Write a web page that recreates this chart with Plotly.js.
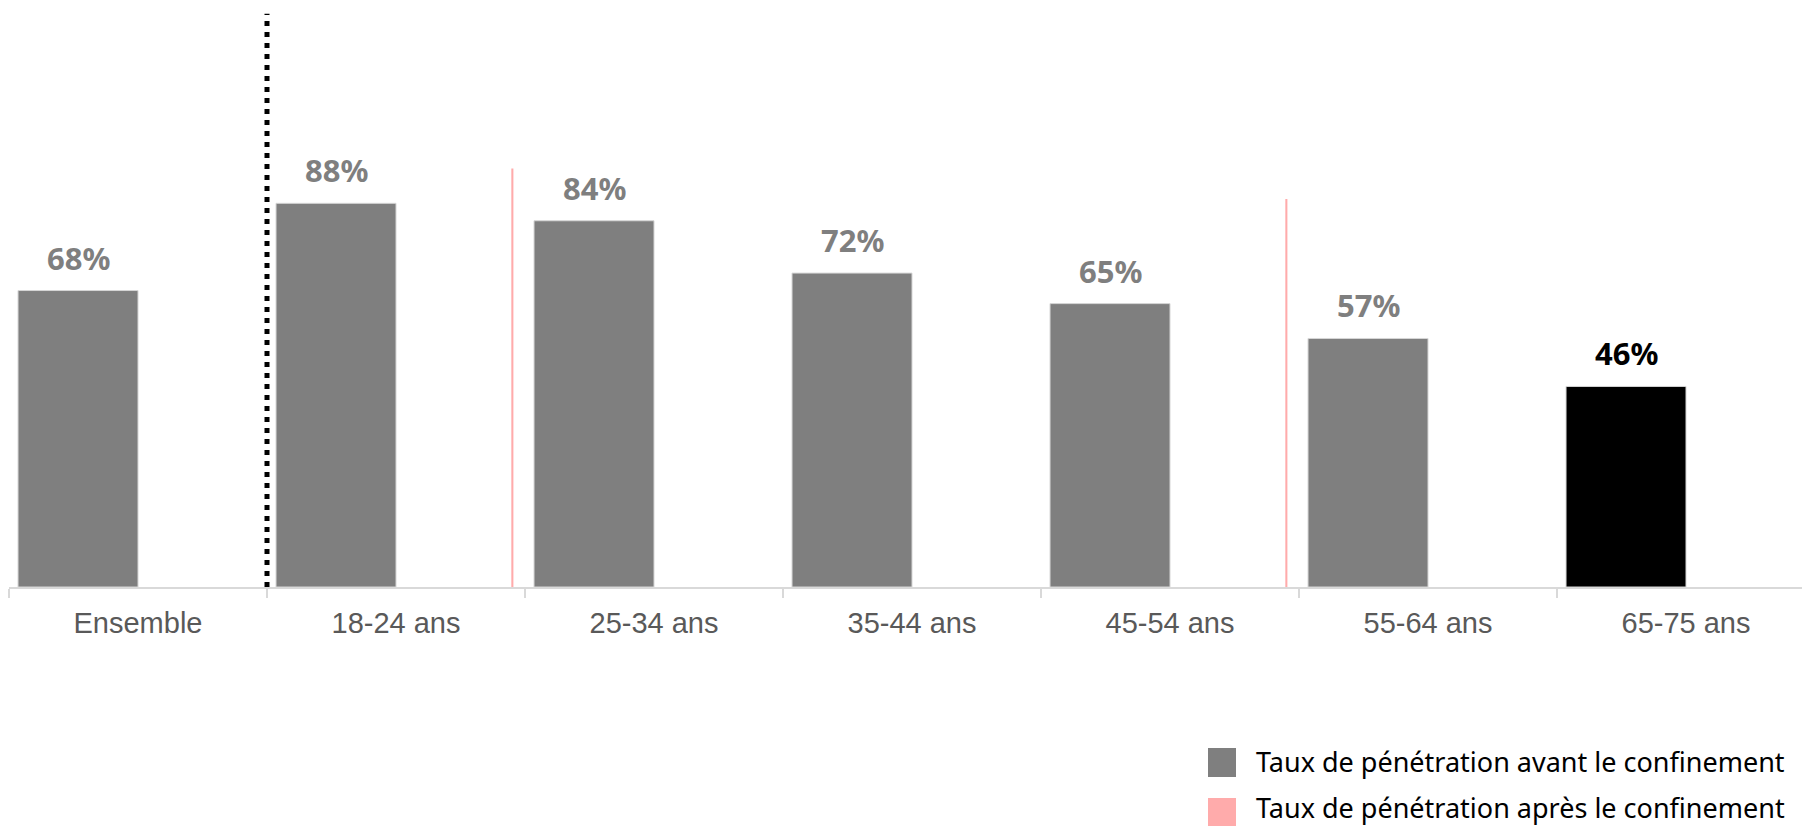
<!DOCTYPE html>
<html>
<head>
<meta charset="utf-8">
<script src="https://cdn.plot.ly/plotly-3.0.1.min.js"></script>
<style>html,body{margin:0;padding:0;background:#fff;}#chart{width:1802px;height:826px;}</style>
</head>
<body>
<div id="chart"></div>
<script>
// ---- data ----
const categories = ["Ensemble", "18-24 ans", "25-34 ans", "35-44 ans", "45-54 ans", "55-64 ans", "65-75 ans"];
const avantValues = [68, 88, 84, 72, 65, 57, 46];
const apresValues = [null, 96, null, null, 89, null, null];
const avantLabels = ["68%", "88%", "84%", "72%", "65%", "57%", "46%"];
const seriesNames = ["Taux de pénétration avant le confinement", "Taux de pénétration après le confinement"];

// ---- styles ----
const W = 1802, H = 826;
const M = {l: 9, r: 0, t: 3, b: 239};
const PW = W - M.l - M.r, PH = H - M.t - M.b;
const catPx = 258;
const xMax = -0.5 + PW / catPx;
const yMax = PH / 4.36;
const grey = "#7f7f7f";
const pink = "#ffabab";
const barColors = avantValues.map((v, i) => i === avantValues.length - 1 ? "#000000" : grey);
const labelColors = avantValues.map((v, i) => i === avantValues.length - 1 ? "#000000" : grey);
const barW = 0.465;

const traces = [
  {
    type: "bar", name: seriesNames[0], x: categories, y: avantValues,
    width: barW, offset: -barW,
    marker: {color: barColors, line: {color: "#d6d6d6", width: 1}},
    hoverinfo: "x+y", showlegend: false
  },
  {
    type: "bar", name: seriesNames[1], x: categories, y: apresValues,
    width: 0.008, offset: 0.447,
    marker: {color: pink, line: {width: 0}},
    hoverinfo: "x+y", showlegend: false
  }
];

const annotations = avantValues.map((v, i) => ({
  xref: "x", yref: "y", x: i - barW / 2, y: v,
  text: "<b>" + avantLabels[i] + "</b>", showarrow: false,
  xanchor: "center", yanchor: "bottom", yshift: 10,
  font: {family: "Noto Sans, sans-serif", size: 31, color: labelColors[i]}
}));

// legend (custom, bottom right)
const px2x = px => (px - M.l) / PW;
const px2y = py => (M.t + PH - py) / PH;
const legendRows = [762, 812];
const legendText = [761, 807];
const legendColors = [grey, pink];
const shapes = [
  {type: "line", xref: "x", yref: "y", x0: 0.5, x1: 0.5, y0: 0, y1: 131.5,
   line: {color: "#000000", width: 5, dash: "5px,6px"}}
];
seriesNames.forEach((n, k) => {
  shapes.push({type: "rect", xref: "paper", yref: "paper",
    x0: px2x(1208), x1: px2x(1236), y0: px2y(legendRows[k] - 14), y1: px2y(legendRows[k] + 15),
    fillcolor: legendColors[k], line: {width: 0}});
  annotations.push({xref: "paper", yref: "paper", x: px2x(1255), y: px2y(legendText[k]),
    xanchor: "left", yanchor: "middle", showarrow: false, text: n, borderpad: 0,
    font: {family: "Noto Sans, sans-serif", size: 27, color: "#000000"}});
});

const layout = {
  width: W, height: H, margin: M,
  paper_bgcolor: "#ffffff", plot_bgcolor: "#ffffff",
  showlegend: false,
  barmode: "overlay",
  xaxis: {
    type: "category", range: [-0.5, xMax], fixedrange: true,
    showline: true, linecolor: "#d9d9d9", linewidth: 2,
    ticks: "outside", tickson: "boundaries", ticklen: 9, tickwidth: 2, tickcolor: "#d9d9d9",
    tickfont: {family: "Liberation Sans, Arial, sans-serif", size: 29, color: "#595959"},
    ticklabelstandoff: 9,
    showgrid: false, zeroline: false
  },
  yaxis: {
    range: [0, yMax], visible: false, showgrid: false, zeroline: false, fixedrange: true
  },
  shapes: shapes,
  annotations: annotations
};

Plotly.newPlot("chart", traces, layout, {displayModeBar: false, staticPlot: true});
</script>
</body>
</html>
